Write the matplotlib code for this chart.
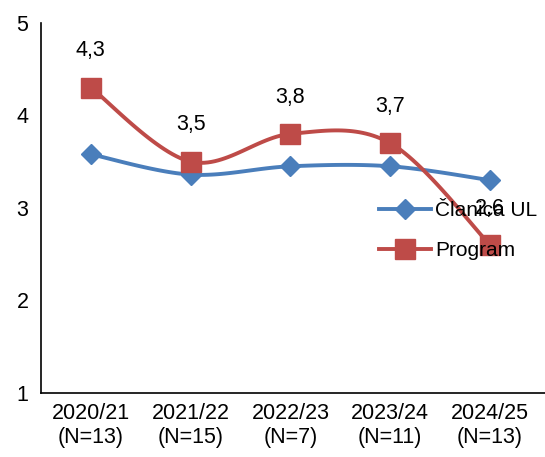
import matplotlib.pyplot as plt
import numpy as np

plt.rcParams['font.family'] = ['Liberation Sans', 'DejaVu Sans']

years = ['2020/21\n(N=13)', '2021/22\n(N=15)', '2022/23\n(N=7)', '2023/24\n(N=11)', '2024/25\n(N=13)']
clanica = [3.58, 3.36, 3.45, 3.45, 3.30]
program = [4.3, 3.5, 3.8, 3.7, 2.6]
program_labels = ['4,3', '3,5', '3,8', '3,7', '2,6']


def smooth(x, y, n=30):
    # excel-like smoothed line (catmull-rom as bezier)
    x = np.asarray(x, float)
    y = np.asarray(y, float)
    px = np.concatenate([[x[0]], x, [x[-1]]])
    py = np.concatenate([[y[0]], y, [y[-1]]])
    xs, ys = [], []
    t = np.linspace(0, 1, n)
    for i in range(1, len(x)):
        p0 = np.array([px[i], py[i]])
        p3 = np.array([px[i + 1], py[i + 1]])
        c1 = p0 + (p3 - np.array([px[i - 1], py[i - 1]])) / 6
        c2 = p3 - (np.array([px[i + 2], py[i + 2]]) - p0) / 6
        pts = ((1 - t) ** 3)[:, None] * p0 + (3 * (1 - t) ** 2 * t)[:, None] * c1 \
            + (3 * (1 - t) * t ** 2)[:, None] * c2 + (t ** 3)[:, None] * p3
        xs.extend(pts[:, 0])
        ys.extend(pts[:, 1])
    return xs, ys


fig = plt.figure(figsize=(5.45, 4.57), dpi=100)
ax = fig.add_axes([0.075, 0.14, 0.925, 0.81])

x = np.arange(len(years))
blue = '#4A7EBB'
red = '#BE4B48'

sx, sy = smooth(x, clanica)
ax.plot(sx, sy, color=blue, lw=2.8, zorder=2)
ax.plot(x, clanica, 'D', color=blue, ms=10, zorder=3)
sx, sy = smooth(x, program)
ax.plot(sx, sy, color=red, lw=2.8, zorder=4)
ax.plot(x, program, 's', color=red, ms=14, zorder=5)

for xi, yi, lab in zip(x, program, program_labels):
    ax.annotate(lab, (xi, yi), xytext=(0, 19), textcoords='offset points',
                ha='center', va='bottom', fontsize=15.5)

h1 = plt.Line2D([], [], color=blue, lw=2.8, marker='D', ms=10)
h2 = plt.Line2D([], [], color=red, lw=2.8, marker='s', ms=14)
fig.legend([h1, h2], ['Članica UL', 'Program'], loc='center left',
           bbox_to_anchor=(0.68, 0.495), frameon=False, fontsize=15,
           handlelength=2.5, handletextpad=0.2, labelspacing=1.0, borderaxespad=0)

ax.set_xlim(-0.5, 4.55)
ax.set_ylim(1, 5)
ax.set_yticks([1, 2, 3, 4, 5])
ax.set_xticks(x)
ax.set_xticklabels(years)
ax.tick_params(length=0, labelsize=15.5)
ax.tick_params(axis='y', pad=9)
ax.tick_params(axis='x', pad=7)
for s in ['top', 'right']:
    ax.spines[s].set_visible(False)
for s in ['left', 'bottom']:
    ax.spines[s].set_linewidth(1.2)

plt.savefig('out.png', dpi=100)
